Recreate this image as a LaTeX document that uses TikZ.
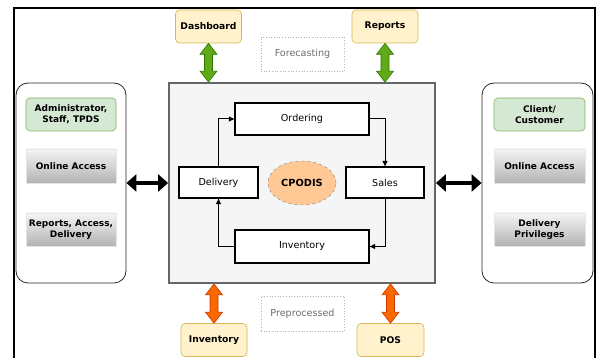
\documentclass[tikz,border=0pt]{standalone}
\usepackage{fontspec}
\setmainfont{DejaVu Sans}
\usetikzlibrary{shapes.geometric,arrows.meta,calc}
\definecolor{yfill}{HTML}{FFF2CC}
\definecolor{ydraw}{HTML}{D6B656}
\definecolor{gfill}{HTML}{D5E8D4}
\definecolor{gdraw}{HTML}{82B366}
\definecolor{cfill}{HTML}{F5F5F5}
\definecolor{cdraw}{HTML}{666666}
\definecolor{efill}{HTML}{FFC894}
\definecolor{grnfill}{HTML}{60A917}
\definecolor{grndraw}{HTML}{2D7600}
\definecolor{orfill}{HTML}{FA6800}
\definecolor{ordraw}{HTML}{C73500}
\newcommand\vfatarrow[4]{%
  \filldraw[fill=#3,draw=#4,line width=0.6pt] let \p1=(#1), \p2=(#2) in
    (\x1,\y1) -- (\x1+8.5pt,\y1-11pt) -- (\x1+4pt,\y1-11pt) -- (\x1+4pt,\y2+11pt)
    -- (\x1+8.5pt,\y2+11pt) -- (\x1,\y2) -- (\x1-8.5pt,\y2+11pt) -- (\x1-4pt,\y2+11pt)
    -- (\x1-4pt,\y1-11pt) -- (\x1-8.5pt,\y1-11pt) -- cycle;}
\tikzset{
  x=1pt,y=1pt,
  ybox/.style={draw=ydraw,fill=yfill,rounded corners=4pt,line width=0.6pt,
    minimum width=66pt,minimum height=33pt,font=\bfseries\fontsize{9.2}{11}\selectfont,inner sep=1pt},
  dotbox/.style={draw=gray!60,dotted,line width=0.7pt,minimum width=83pt,minimum height=34pt,
    font=\fontsize{9.6}{11}\selectfont,text=gray!85!black},
  procbox/.style={draw=black,fill=white,line width=1.3pt,minimum height=32pt,
    font=\fontsize{9.6}{11}\selectfont},
  panel/.style={draw=black!85,line width=0.8pt,rounded corners=12pt,minimum width=110pt,minimum height=200pt},
  gbox/.style={draw=gdraw,fill=gfill,rounded corners=4pt,line width=0.6pt,minimum width=90pt,
    minimum height=33pt,align=center,font=\bfseries\fontsize{9}{11}\selectfont,inner sep=1pt},
  graybox/.style={top color=black!4,bottom color=black!30,draw=black!10,line width=0.4pt,
    minimum width=90pt,minimum height=33pt,align=center,font=\bfseries\fontsize{9}{11}\selectfont,inner sep=1pt},
  flow/.style={-{Triangle[length=5.5pt,width=5pt]},line width=1pt},
  bigarrow/.style={{Triangle[length=10pt,width=17pt]}-{Triangle[length=10pt,width=17pt]},line width=4.2pt}
}
\begin{document}
\begin{tikzpicture}
\useasboundingbox (0,0) rectangle (597,358);
% outer frame
\draw[line width=1.6pt] (14,-5) -- (14,350) -- (595,350) -- (595,-5);
% central box
\node[draw=cdraw,fill=cfill,line width=1.8pt,minimum width=266pt,minimum height=200pt] (central) at (302,175) {};
% top boxes
\node[ybox] (dash) at (208.5,331.5) {Dashboard};
\node[ybox] (rep) at (385,331.5) {Reports};
\node[dotbox] (fore) at (302.5,304) {Forecasting};
% bottom boxes
\node[ybox] (inv2) at (214,18) {Inventory};
\node[ybox,minimum width=67pt] (pos) at (390.5,18) {POS};
\node[dotbox,minimum height=35pt] (pre) at (302.5,44.5) {Preprocessed};
% process boxes
\node[procbox,minimum width=134pt] (ord) at (302,239) {Ordering};
\node[procbox,minimum width=134pt,minimum height=33pt] (inv) at (302,111.5) {Inventory};
\node[procbox,minimum width=79pt,minimum height=31pt] (del) at (218.5,175.5) {Delivery};
\node[procbox,minimum width=78pt,minimum height=31pt] (sal) at (385,175.5) {Sales};
\node[ellipse,draw=gray,dashed,line width=0.4pt,fill=efill,minimum width=66pt,minimum height=44pt,
  font=\bfseries\fontsize{9.8}{11}\selectfont] (cp) at (302,175) {CPODIS};
% flow arrows
\draw[flow] (del.north) |- (ord.west);
\draw[flow] (ord.east) -| (sal.north);
\draw[flow] (sal.south) |- (inv.east);
\draw[flow] (inv.west) -| (del.south);
% side panels
\node[panel] (lp) at (71,175) {};
\node[panel,minimum width=111pt] (rp) at (537.5,175) {};
\node[gbox] (adm) at (71,243.5) {Administrator,\\Staff, TPDS};
\node[graybox,minimum height=34pt] (loa) at (71,192) {Online Access};
\node[graybox] (rad) at (71,128.5) {Reports, Access,\\Delivery};
\node[gbox,minimum width=91pt] (cli) at (539.5,243.5) {Client/\\Customer};
\node[graybox,minimum width=91pt,minimum height=34pt] (roa) at (539.5,192) {Online Access};
\node[graybox,minimum width=91pt] (dp) at (539.5,128.5) {Delivery\\Privileges};
% big black arrows
\draw[bigarrow] (lp.east) -- (central.west);
\draw[bigarrow] (central.east) -- (rp.west);
% fat vertical arrows
\vfatarrow{dash.south}{dash.south |- central.north}{grnfill}{grndraw}
\vfatarrow{rep.south}{rep.south |- central.north}{grnfill}{grndraw}
\vfatarrow{inv2.north |- central.south}{inv2.north}{orfill}{ordraw}
\vfatarrow{pos.north |- central.south}{pos.north}{orfill}{ordraw}
\end{tikzpicture}
\end{document}
